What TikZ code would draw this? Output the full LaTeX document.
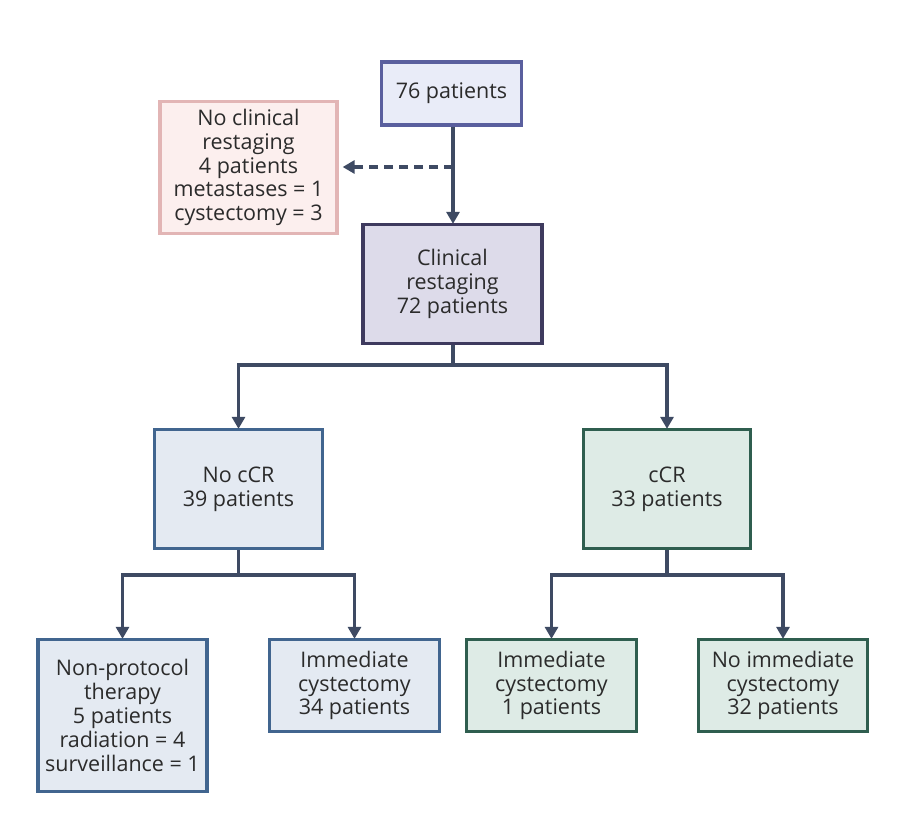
\documentclass[tikz,border=0pt]{standalone}
\usepackage{fontspec}
\setmainfont{Open Sans}
\usetikzlibrary{arrows.meta}
\definecolor{txt}{HTML}{2B2B2B}
\definecolor{arrc}{HTML}{3E4A63}
\definecolor{topF}{HTML}{E9ECF8}\definecolor{topD}{HTML}{5A5F9E}
\definecolor{pinkF}{HTML}{FCEFEE}\definecolor{pinkD}{HTML}{E2B5B5}
\definecolor{clinF}{HTML}{DDDBEA}\definecolor{clinD}{HTML}{3E3A5E}
\definecolor{blueF}{HTML}{E4EAF2}\definecolor{blueD}{HTML}{41658F}
\definecolor{greenF}{HTML}{DEEBE6}\definecolor{greenD}{HTML}{2F5E4F}
\tikzset{
  box/.style={rectangle, line width=3.3pt, align=center, text=txt, inner sep=0pt,
    font=\fontsize{21.5}{23.8}\selectfont},
  topbox/.style={box, draw=topD, fill=topF},
  pinkbox/.style={box, draw=pinkD, fill=pinkF},
  clinbox/.style={box, draw=clinD, fill=clinF},
  bluebox/.style={box, draw=blueD, fill=blueF},
  greenbox/.style={box, draw=greenD, fill=greenF},
  arr/.style={draw=arrc, line width=3.8pt, -{Triangle[length=12pt,width=13pt]}},
  dasharr/.style={arr, dash pattern=on 9pt off 6pt},
  linkline/.style={draw=arrc, line width=3.8pt}
}
\begin{document}
\begin{tikzpicture}[x=1pt,y=-1pt]
\useasboundingbox[fill=white] (0,0) rectangle (912,834);
\node[topbox, minimum width=140pt, minimum height=63pt] (top) at (451.5,93.5) {76 patients};
\node[pinkbox, minimum width=177pt, minimum height=132pt] (noclin) at (248.5,167.5)
  {No clinical\\restaging\\4 patients\\metastases = 1\\cystectomy = 3};
\node[clinbox, minimum width=179pt, minimum height=119pt] (clin) at (452.5,284)
  {Clinical\\restaging\\72 patients};
\node[bluebox, minimum width=168pt, minimum height=119pt] (noccr) at (238.5,489)
  {No cCR\\39 patients};
\node[greenbox, minimum width=167pt, minimum height=119pt] (ccr) at (667,489)
  {cCR\\33 patients};
\node[bluebox, minimum width=169pt, minimum height=152pt] (np) at (122.5,715.5)
  {Non-protocol\\therapy\\5 patients\\radiation = 4\\surveillance = 1};
\node[bluebox, minimum width=170pt, minimum height=92pt] (ic34) at (354.5,685.5)
  {Immediate\\cystectomy\\34 patients};
\node[greenbox, minimum width=170pt, minimum height=92pt] (ic1) at (551.5,685.5)
  {Immediate\\cystectomy\\1 patients};
\node[greenbox, minimum width=169pt, minimum height=92pt] (nic) at (783,685.5)
  {No immediate\\cystectomy\\32 patients};
% connectors
\coordinate (split0) at (453,167);
\draw[arr] (top.south -| split0) -- ([yshift=-1pt]clin.north -| split0);
\draw[dasharr] (split0) -- ([xshift=4pt]noclin.east |- split0);
\coordinate (j1) at (453,365);
\draw[linkline] (clin.south -| j1) -- (j1);
\draw[arr] ([xshift=1.9pt]j1) -| ([yshift=-1pt]noccr.north);
\draw[arr] ([xshift=-1.9pt]j1) -| ([yshift=-1pt]ccr.north);
\coordinate (j2) at (238.5,575);
\draw[linkline] (noccr.south) -- (j2);
\draw[arr] ([xshift=1.9pt]j2) -| ([yshift=-1pt]np.north);
\draw[arr] ([xshift=-1.9pt]j2) -| ([yshift=-1pt]ic34.north);
\coordinate (j3) at (667,575);
\draw[linkline] (ccr.south) -- (j3);
\draw[arr] ([xshift=1.9pt]j3) -| ([yshift=-1pt]ic1.north);
\draw[arr] ([xshift=-1.9pt]j3) -| ([yshift=-1pt]nic.north);
\end{tikzpicture}
\end{document}
